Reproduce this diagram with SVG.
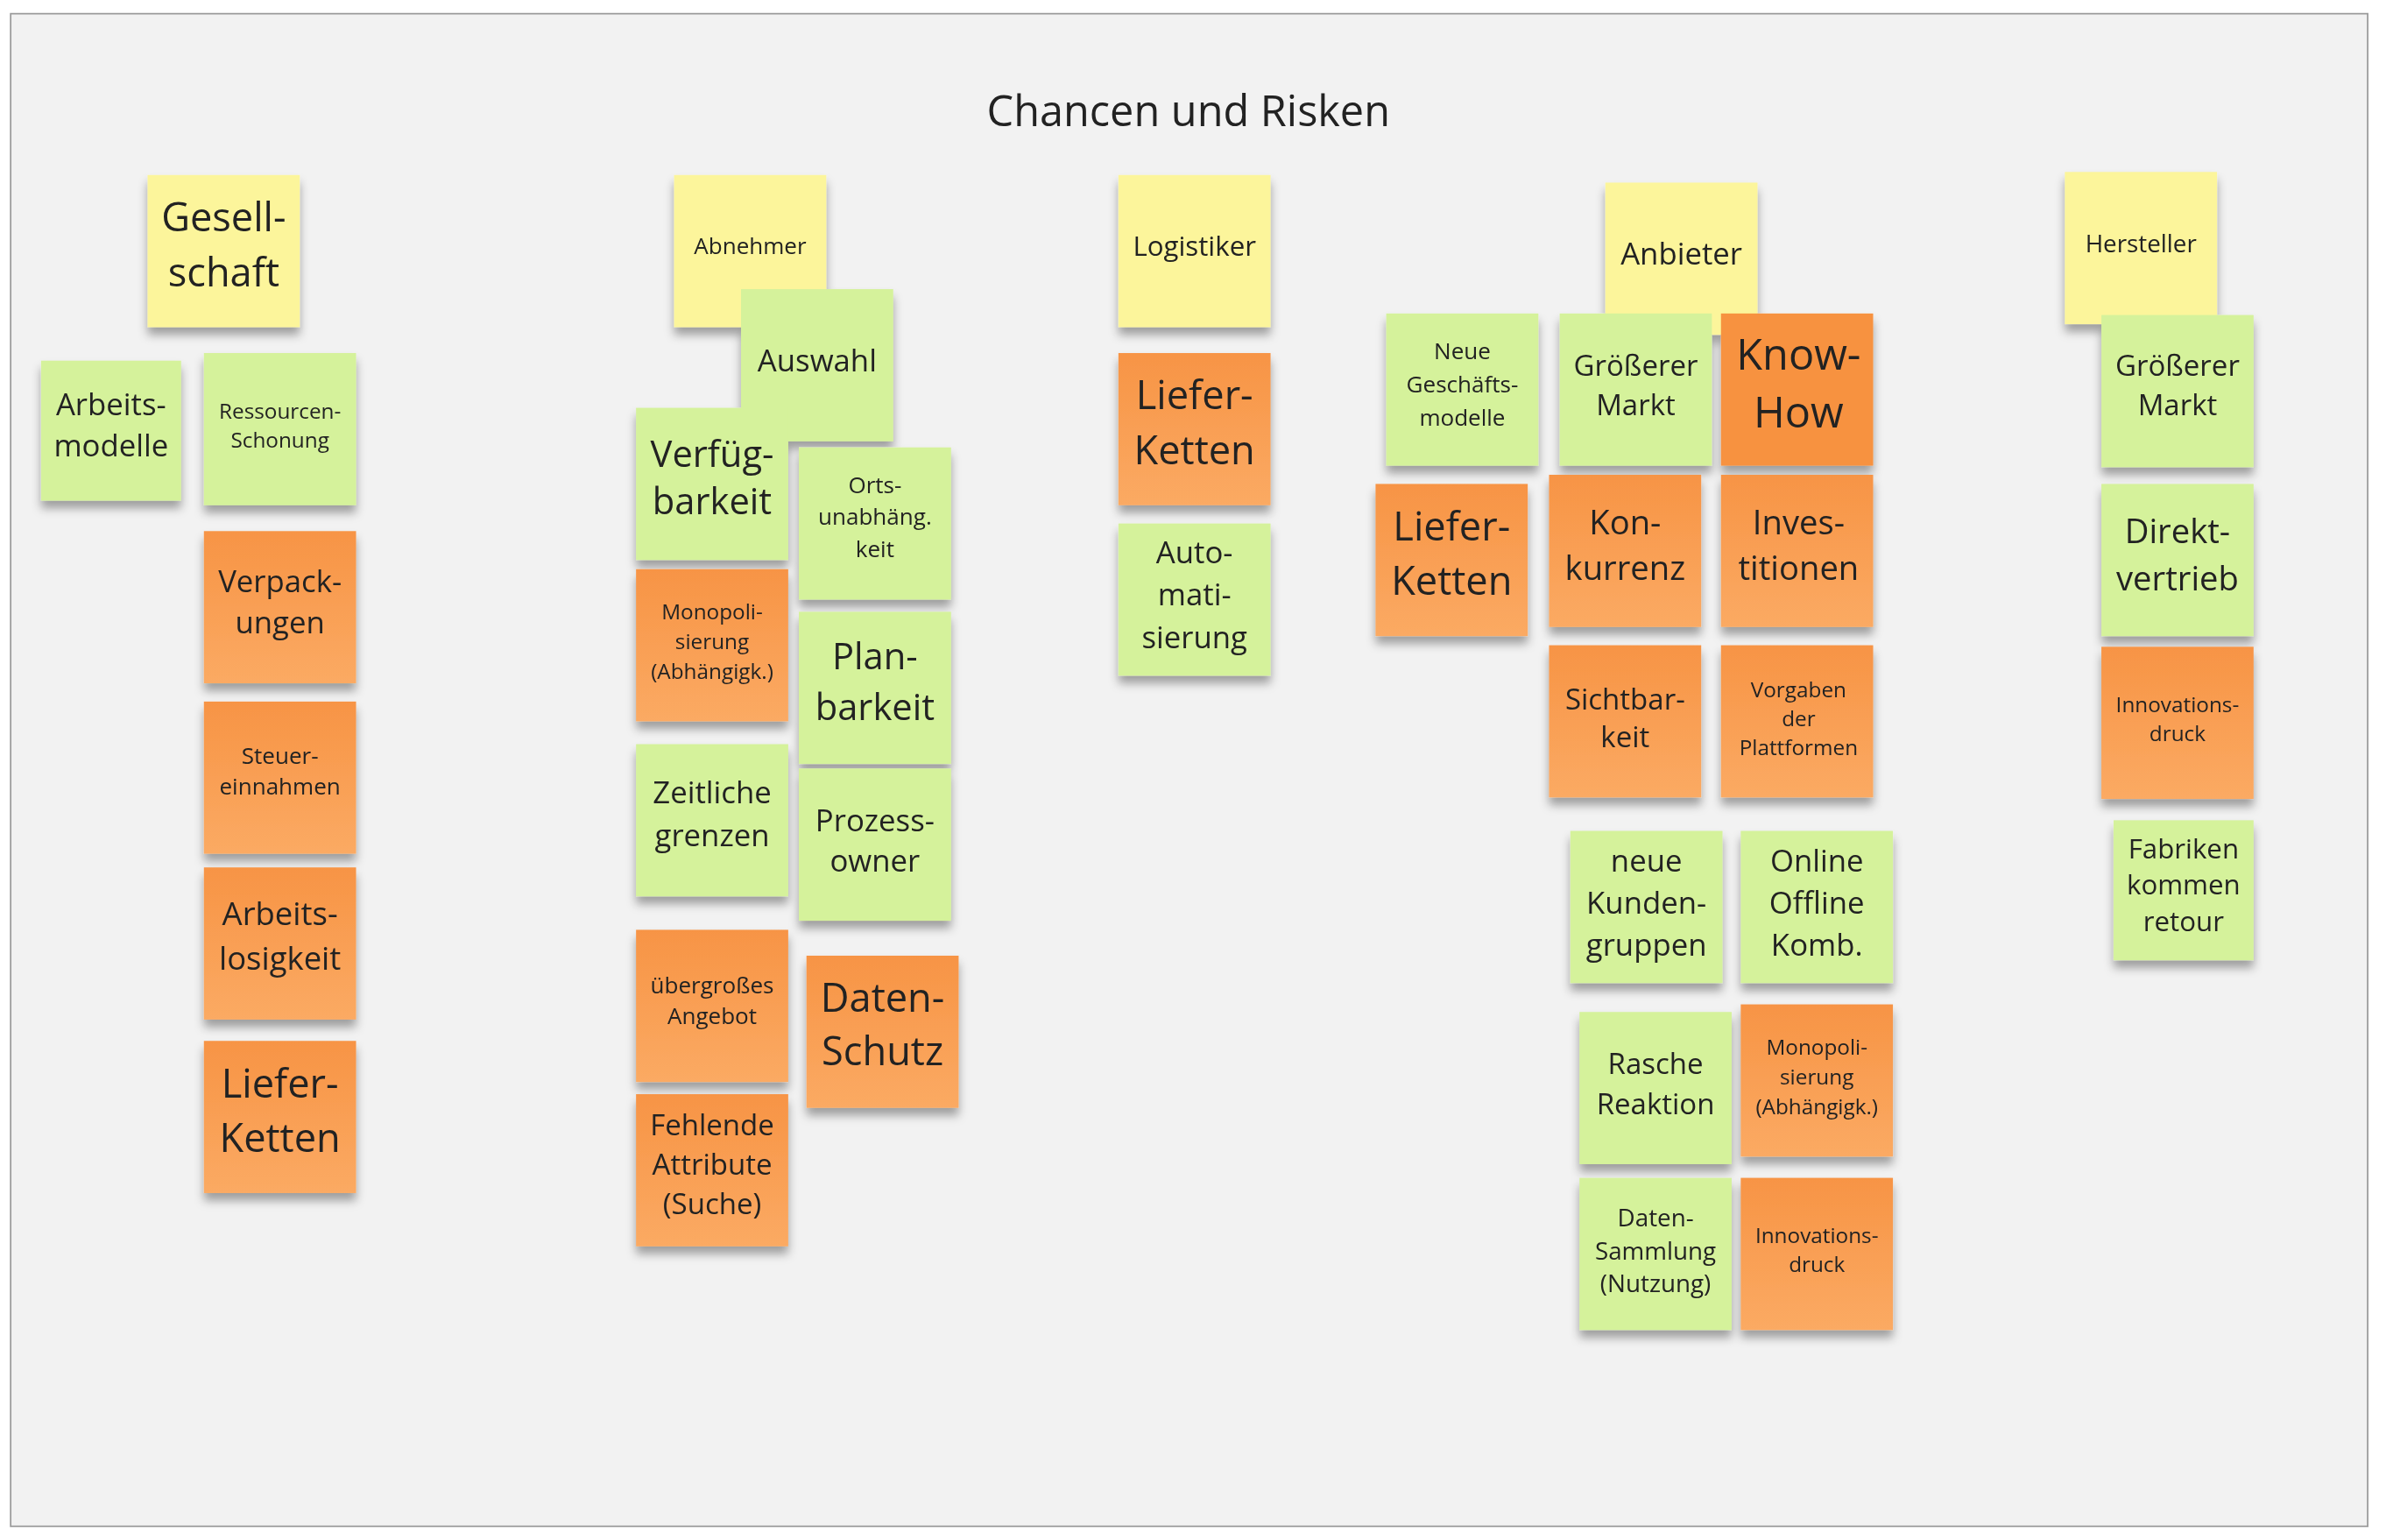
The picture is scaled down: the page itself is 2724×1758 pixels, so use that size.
<svg xmlns="http://www.w3.org/2000/svg" width="2724" height="1758" viewBox="0 0 2724 1758">
<style>
text{font-family:"Open Sans","Noto Sans",sans-serif;fill:#222;text-anchor:middle}
.y{fill:#fcf59b}.g{fill:#d5f29b}.o{fill:url(#og)}.k{fill:#f7923f}
</style>
<defs>
<linearGradient id="og" x1="0" y1="0" x2="0" y2="1"><stop offset="0" stop-color="#f79445"/><stop offset="1" stop-color="#fbaa63"/></linearGradient>
<filter id="sh" x="-20%" y="-20%" width="140%" height="150%"><feDropShadow dx="0" dy="5" stdDeviation="3" flood-color="#000" flood-opacity="0.35"/></filter>
</defs>
<rect width="2724" height="1758" fill="#fff"/>
<g transform="scale(1.7372)">
<rect x="7" y="9" width="1549" height="994" fill="#f2f2f2" stroke="#9a9a9a" stroke-width="1"/>
<text x="781" y="83" font-size="28">Chancen und Risken</text>
<g filter="url(#sh)">
<g id="n1"><rect class="y" x="97" y="115" width="100" height="100"/><text x="147" y="152" font-size="26"><tspan x="147">Gesell-</tspan><tspan x="147" dy="36">schaft</tspan></text></g>
<g id="n2"><rect class="g" x="27" y="237" width="92" height="92"/><text x="73" y="273" font-size="20"><tspan x="73">Arbeits-</tspan><tspan x="73" dy="27">modelle</tspan></text></g>
<g id="n3"><rect class="g" x="134" y="232" width="100" height="100"/><text x="184" y="275" font-size="14"><tspan x="184">Ressourcen-</tspan><tspan x="184" dy="19">Schonung</tspan></text></g>
<g id="n4"><rect class="o" x="134" y="349" width="100" height="100"/><text x="184" y="389" font-size="20"><tspan x="184">Verpack-</tspan><tspan x="184" dy="27">ungen</tspan></text></g>
<g id="n5"><rect class="o" x="134" y="461" width="100" height="100"/><text x="184" y="502" font-size="15"><tspan x="184">Steuer-</tspan><tspan x="184" dy="20">einnahmen</tspan></text></g>
<g id="n6"><rect class="o" x="134" y="570" width="100" height="100"/><text x="184" y="608" font-size="21"><tspan x="184">Arbeits-</tspan><tspan x="184" dy="29">losigkeit</tspan></text></g>
<g id="n7"><rect class="o" x="134" y="684" width="100" height="100"/><text x="184" y="721" font-size="26"><tspan x="184">Liefer-</tspan><tspan x="184" dy="36">Ketten</tspan></text></g>
<g id="n8"><rect class="y" x="443" y="115" width="100" height="100"/><text x="493" y="167" font-size="15">Abnehmer</text></g>
<g id="n9"><rect class="g" x="487" y="190" width="100" height="100"/><text x="537" y="244" font-size="20">Auswahl</text></g>
<g id="n10"><rect class="g" x="418" y="268" width="100" height="100"/><text x="468" y="307" font-size="24"><tspan x="468">Verfüg-</tspan><tspan x="468" dy="31">barkeit</tspan></text></g>
<g id="n11"><rect class="g" x="525" y="294" width="100" height="100"/><text x="575" y="324" font-size="15"><tspan x="575">Orts-</tspan><tspan x="575" dy="21">unabhäng.</tspan><tspan x="575" dy="21">keit</tspan></text></g>
<g id="n12"><rect class="o" x="418" y="374" width="100" height="100"/><text x="468" y="407" font-size="14"><tspan x="468">Monopoli-</tspan><tspan x="468" dy="19.5">sierung</tspan><tspan x="468" dy="19.5">(Abhängigk.)</tspan></text></g>
<g id="n13"><rect class="g" x="525" y="402" width="100" height="100"/><text x="575" y="440" font-size="24"><tspan x="575">Plan-</tspan><tspan x="575" dy="33">barkeit</tspan></text></g>
<g id="n14"><rect class="g" x="418" y="489" width="100" height="100"/><text x="468" y="528" font-size="20"><tspan x="468">Zeitliche</tspan><tspan x="468" dy="28">grenzen</tspan></text></g>
<g id="n15"><rect class="g" x="525" y="505" width="100" height="100"/><text x="575" y="546" font-size="20"><tspan x="575">Prozess-</tspan><tspan x="575" dy="27">owner</tspan></text></g>
<g id="n16"><rect class="o" x="418" y="611" width="100" height="100"/><text x="468" y="653" font-size="15"><tspan x="468">übergroßes</tspan><tspan x="468" dy="20">Angebot</tspan></text></g>
<g id="n17"><rect class="o" x="530" y="628" width="100" height="100"/><text x="580" y="665" font-size="26"><tspan x="580">Daten-</tspan><tspan x="580" dy="35">Schutz</tspan></text></g>
<g id="n18"><rect class="o" x="418" y="719" width="100" height="100"/><text x="468" y="746" font-size="19"><tspan x="468">Fehlende</tspan><tspan x="468" dy="26">Attribute</tspan><tspan x="468" dy="26">(Suche)</tspan></text></g>
<g id="n19"><rect class="y" x="735" y="115" width="100" height="100"/><text x="785" y="168" font-size="18">Logistiker</text></g>
<g id="n20"><rect class="o" x="735" y="232" width="100" height="100"/><text x="785" y="269" font-size="26"><tspan x="785">Liefer-</tspan><tspan x="785" dy="36">Ketten</tspan></text></g>
<g id="n21"><rect class="g" x="735" y="344" width="100" height="100"/><text x="785" y="370" font-size="20"><tspan x="785">Auto-</tspan><tspan x="785" dy="28">mati-</tspan><tspan x="785" dy="28">sierung</tspan></text></g>
<g id="n22"><rect class="y" x="1055" y="120" width="100" height="100"/><text x="1105" y="174" font-size="20">Anbieter</text></g>
<g id="n23"><rect class="g" x="911" y="206" width="100" height="100"/><text x="961" y="236" font-size="15"><tspan x="961">Neue</tspan><tspan x="961" dy="22">Geschäfts-</tspan><tspan x="961" dy="22">modelle</tspan></text></g>
<g id="n24"><rect class="g" x="1025" y="206" width="100" height="100"/><text x="1075" y="247" font-size="19"><tspan x="1075">Größerer</tspan><tspan x="1075" dy="26">Markt</tspan></text></g>
<g id="n25"><rect class="k" x="1131" y="206" width="100" height="100"/><text x="1182" y="243" font-size="28"><tspan x="1182">Know-</tspan><tspan x="1182" dy="38">How</tspan></text></g>
<g id="n26"><rect class="o" x="904" y="318" width="100" height="100"/><text x="954" y="355" font-size="26"><tspan x="954">Liefer-</tspan><tspan x="954" dy="36">Ketten</tspan></text></g>
<g id="n27"><rect class="o" x="1018" y="312" width="100" height="100"/><text x="1068" y="351" font-size="22"><tspan x="1068">Kon-</tspan><tspan x="1068" dy="30">kurrenz</tspan></text></g>
<g id="n28"><rect class="o" x="1131" y="312" width="100" height="100"/><text x="1182" y="351" font-size="22"><tspan x="1182">Inves-</tspan><tspan x="1182" dy="30">titionen</tspan></text></g>
<g id="n29"><rect class="o" x="1018" y="424" width="100" height="100"/><text x="1068" y="466" font-size="19"><tspan x="1068">Sichtbar-</tspan><tspan x="1068" dy="25">keit</tspan></text></g>
<g id="n30"><rect class="o" x="1131" y="424" width="100" height="100"/><text x="1182" y="458" font-size="14"><tspan x="1182">Vorgaben</tspan><tspan x="1182" dy="19">der</tspan><tspan x="1182" dy="19">Plattformen</tspan></text></g>
<g id="n31"><rect class="g" x="1032" y="546" width="100" height="100"/><text x="1082" y="573" font-size="20"><tspan x="1082">neue</tspan><tspan x="1082" dy="27.5">Kunden-</tspan><tspan x="1082" dy="27.5">gruppen</tspan></text></g>
<g id="n32"><rect class="g" x="1144" y="546" width="100" height="100"/><text x="1194" y="573" font-size="20"><tspan x="1194">Online</tspan><tspan x="1194" dy="27.5">Offline</tspan><tspan x="1194" dy="27.5">Komb.</tspan></text></g>
<g id="n33"><rect class="g" x="1038" y="665" width="100" height="100"/><text x="1088" y="706" font-size="19"><tspan x="1088">Rasche</tspan><tspan x="1088" dy="26">Reaktion</tspan></text></g>
<g id="n34"><rect class="o" x="1144" y="660" width="100" height="100"/><text x="1194" y="693" font-size="14"><tspan x="1194">Monopoli-</tspan><tspan x="1194" dy="19.5">sierung</tspan><tspan x="1194" dy="19.5">(Abhängigk.)</tspan></text></g>
<g id="n35"><rect class="g" x="1038" y="774" width="100" height="100"/><text x="1088" y="806" font-size="16"><tspan x="1088">Daten-</tspan><tspan x="1088" dy="21.5">Sammlung</tspan><tspan x="1088" dy="21.5">(Nutzung)</tspan></text></g>
<g id="n36"><rect class="o" x="1144" y="774" width="100" height="100"/><text x="1194" y="817" font-size="14"><tspan x="1194">Innovations-</tspan><tspan x="1194" dy="19">druck</tspan></text></g>
<g id="n37"><rect class="y" x="1357" y="113" width="100" height="100"/><text x="1407" y="166" font-size="16">Hersteller</text></g>
<g id="n38"><rect class="g" x="1381" y="207" width="100" height="100"/><text x="1431" y="247" font-size="19"><tspan x="1431">Größerer</tspan><tspan x="1431" dy="26">Markt</tspan></text></g>
<g id="n39"><rect class="g" x="1381" y="318" width="100" height="100"/><text x="1431" y="357" font-size="22"><tspan x="1431">Direkt-</tspan><tspan x="1431" dy="31">vertrieb</tspan></text></g>
<g id="n40"><rect class="o" x="1381" y="425" width="100" height="100"/><text x="1431" y="468" font-size="14"><tspan x="1431">Innovations-</tspan><tspan x="1431" dy="19">druck</tspan></text></g>
<g id="n41"><rect class="g" x="1389" y="539" width="92" height="92"/><text x="1435" y="564" font-size="18"><tspan x="1435">Fabriken</tspan><tspan x="1435" dy="24">kommen</tspan><tspan x="1435" dy="24">retour</tspan></text></g>
</g>
<g id="connectors"/>
</g>
</svg>
